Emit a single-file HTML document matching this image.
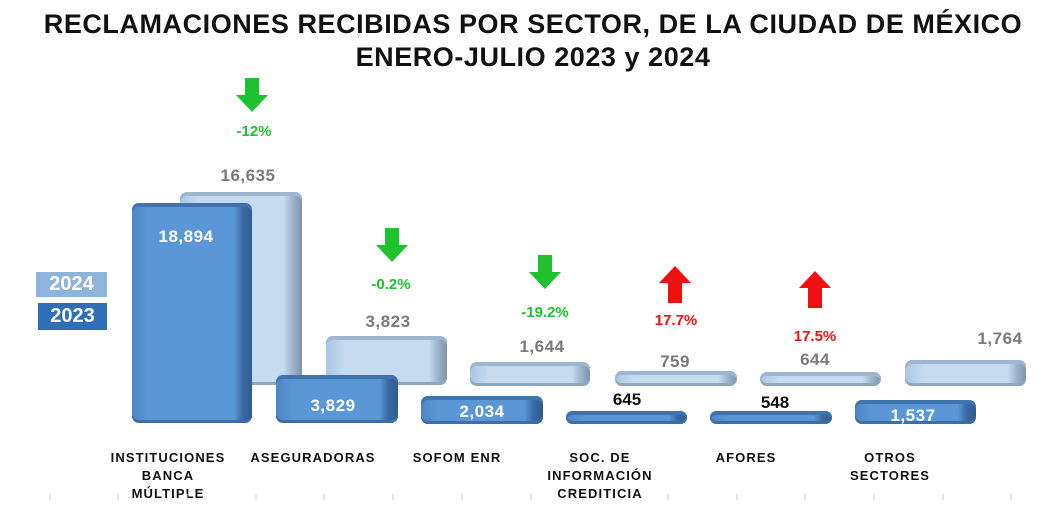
<!DOCTYPE html><html><head><style>
body{margin:0;width:1039px;height:522px;background:#fff;position:relative;overflow:hidden;font-family:"Liberation Sans",sans-serif;font-weight:bold}
.t{position:absolute;white-space:nowrap;transform:translateX(-50%);line-height:1}
.b{position:absolute;border-radius:7px}
.f{background:linear-gradient(90deg,#4f86c4 0%,#5b97d6 15%,#5b97d6 85%,#3a6aa3 92%,#2f5b90 100%);box-shadow:inset 0 4px 0 #3f73ad,inset 0 -3px 0 #3d6ea6}
.k{background:linear-gradient(90deg,#aac6e4 0%,#c6daf0 15%,#c6daf0 85%,#9fb5cc 92%,#7d93ab 100%);box-shadow:inset 0 4px 0 #9fb6cf,inset 0 -3px 0 #8fa6bf}
.g{color:#7a7a7a;font-size:17px;letter-spacing:0.5px}.w{color:#fff;font-size:17px;letter-spacing:0.5px}
.c{font-size:13px;text-align:center;line-height:18px;color:#111;letter-spacing:1.1px}
.arr{position:absolute;transform:translateX(-50%)}
</style></head><body>
<div class="t" style="left:533px;top:11px;font-size:27px;color:#111;letter-spacing:0.55px">RECLAMACIONES RECIBIDAS POR SECTOR, DE LA CIUDAD DE MÉXICO</div>
<div class="t" style="left:533px;top:44px;font-size:27px;color:#111;letter-spacing:0.55px">ENERO-JULIO 2023 y 2024</div>

<div style="position:absolute;left:36px;top:272px;width:71px;height:25px;background:#8fb4d9;color:#fff;font-size:20px;text-align:center;line-height:25px">2024</div>
<div style="position:absolute;left:38px;top:303px;width:69px;height:27px;background:#2e6fb5;color:#fff;font-size:20px;text-align:center;line-height:27px">2023</div>

<div class="b k" style="left:180px;top:192px;width:122px;height:193px"></div>
<div class="b f" style="left:132px;top:203px;width:120px;height:220px"></div>
<div class="b k" style="left:326px;top:336px;width:121px;height:49px"></div>
<div class="b f" style="left:276px;top:375px;width:122px;height:48px"></div>
<div class="b k" style="left:470px;top:362px;width:120px;height:24px"></div>
<div class="b f" style="left:421px;top:396px;width:122px;height:28px"></div>
<div class="b k" style="left:615px;top:371px;width:122px;height:15px"></div>
<div class="b f" style="left:566px;top:411px;width:121px;height:13px"></div>
<div class="b k" style="left:760px;top:372px;width:121px;height:14px"></div>
<div class="b f" style="left:710px;top:411px;width:122px;height:13px"></div>
<div class="b k" style="left:905px;top:360px;width:121px;height:26px"></div>
<div class="b f" style="left:855px;top:400px;width:121px;height:24px"></div>

<div class="t g" style="left:248px;top:167px">16,635</div>
<div class="t w" style="left:186px;top:228px">18,894</div>
<div class="t g" style="left:388px;top:313px">3,823</div>
<div class="t w" style="left:333px;top:397px">3,829</div>
<div class="t g" style="left:542px;top:338px">1,644</div>
<div class="t w" style="left:482px;top:403px">2,034</div>
<div class="t g" style="left:675px;top:353px">759</div>
<div class="t" style="left:627px;top:391px;font-size:17px;color:#111">645</div>
<div class="t g" style="left:815px;top:351px">644</div>
<div class="t" style="left:775px;top:394px;font-size:17px;color:#111">548</div>
<div class="t g" style="left:1000px;top:330px">1,764</div>
<div class="t w" style="left:913px;top:407px">1,537</div>

<svg class="arr" style="left:252px;top:78px" width="34" height="35"><polygon points="10,0 24,0 24,17 33,17 17,34 1,17 10,17" fill="#1fc12f"/></svg>
<svg class="arr" style="left:392px;top:228px" width="34" height="35"><polygon points="10,0 24,0 24,17 33,17 17,34 1,17 10,17" fill="#1fc12f"/></svg>
<svg class="arr" style="left:545px;top:255px" width="34" height="35"><polygon points="10,0 24,0 24,17 33,17 17,34 1,17 10,17" fill="#1fc12f"/></svg>
<svg class="arr" style="left:675px;top:266px" width="34" height="37"><polygon points="17,0 33,17 24,17 24,37 10,37 10,17 1,17" fill="#f01010"/></svg>
<svg class="arr" style="left:815px;top:271px" width="34" height="37"><polygon points="17,0 33,17 24,17 24,37 10,37 10,17 1,17" fill="#f01010"/></svg>
<div class="t" style="left:254px;top:124px;font-size:15px;color:#1fc12f">-12%</div>
<div class="t" style="left:391px;top:277px;font-size:15px;color:#1fc12f">-0.2%</div>
<div class="t" style="left:545px;top:305px;font-size:15px;color:#1fc12f">-19.2%</div>
<div class="t" style="left:676px;top:313px;font-size:15px;color:#f01010">17.7%</div>
<div class="t" style="left:815px;top:329px;font-size:15px;color:#f01010">17.5%</div>

<div class="t c" style="left:168px;top:449px">INSTITUCIONES<br>BANCA<br>MÚLTIPLE</div>
<div class="t c" style="left:313px;top:449px">ASEGURADORAS</div>
<div class="t c" style="left:457px;top:449px">SOFOM ENR</div>
<div class="t c" style="left:600px;top:449px">SOC. DE<br>INFORMACIÓN<br>CREDITICIA</div>
<div class="t c" style="left:746px;top:449px">AFORES</div>
<div class="t c" style="left:890px;top:449px">OTROS<br>SECTORES</div>
<svg style="position:absolute;left:0;top:494px" width="1039" height="10"><g stroke="#ccc"><line x1="50" y1="0" x2="50" y2="6"/><line x1="118" y1="0" x2="118" y2="6"/><line x1="187" y1="0" x2="187" y2="6"/><line x1="256" y1="0" x2="256" y2="6"/><line x1="324" y1="0" x2="324" y2="6"/><line x1="393" y1="0" x2="393" y2="6"/><line x1="462" y1="0" x2="462" y2="6"/><line x1="531" y1="0" x2="531" y2="6"/><line x1="599" y1="0" x2="599" y2="6"/><line x1="668" y1="0" x2="668" y2="6"/><line x1="737" y1="0" x2="737" y2="6"/><line x1="805" y1="0" x2="805" y2="6"/><line x1="874" y1="0" x2="874" y2="6"/><line x1="943" y1="0" x2="943" y2="6"/><line x1="1011" y1="0" x2="1011" y2="6"/></g></svg>
</body></html>
